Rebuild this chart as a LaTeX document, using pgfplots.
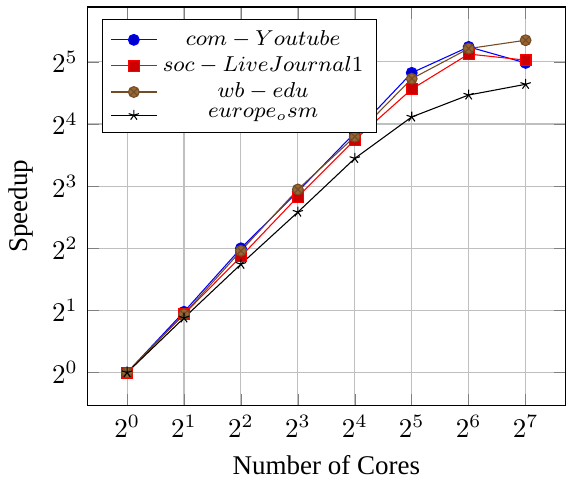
\documentclass[border=0pt]{standalone}
\usepackage{fontspec}
\setmainfont{Liberation Serif}
\usepackage{pgfplots}
\pgfplotsset{compat=1.18}
\begin{document}
\begin{tikzpicture}
\begin{axis}[
  scale only axis,
  width=177pt, height=147.6pt,
  xmode=log, ymode=log,
  log basis x=2, log basis y=2,
  grid=major,
  xtick={1,2,4,8,16,32,64,128},
  ytick={1,2,4,8,16,32},
  xlabel={Number of Cores},
  ylabel={Speedup},
  legend pos=north west,
  legend cell align=center,
  legend style={font=\fontsize{7.6}{8}\selectfont, row sep=-1.4pt},
]
\addplot coordinates {(1,1) (2,1.97) (4,4.0) (8,7.54) (16,14.5) (32,28.3) (64,37.8) (128,31.6)};
\addlegendentry{$com-Youtube$}
\addplot coordinates {(1,1) (2,1.92) (4,3.65) (8,7.11) (16,13.4) (32,23.6) (64,34.9) (128,32.6)};
\addlegendentry{$soc-LiveJournal1$}
\addplot coordinates {(1,1) (2,1.92) (4,3.89) (8,7.71) (16,13.9) (32,26.5) (64,37.1) (128,40.7)};
\addlegendentry{$wb-edu$}
\addplot coordinates {(1,1) (2,1.84) (4,3.35) (8,5.99) (16,10.9) (32,17.3) (64,22.1) (128,24.9)};
\addlegendentry{$europe_osm$}
\end{axis}
\path (current axis.north west) ++(0,2.6pt);
\end{tikzpicture}
\end{document}
